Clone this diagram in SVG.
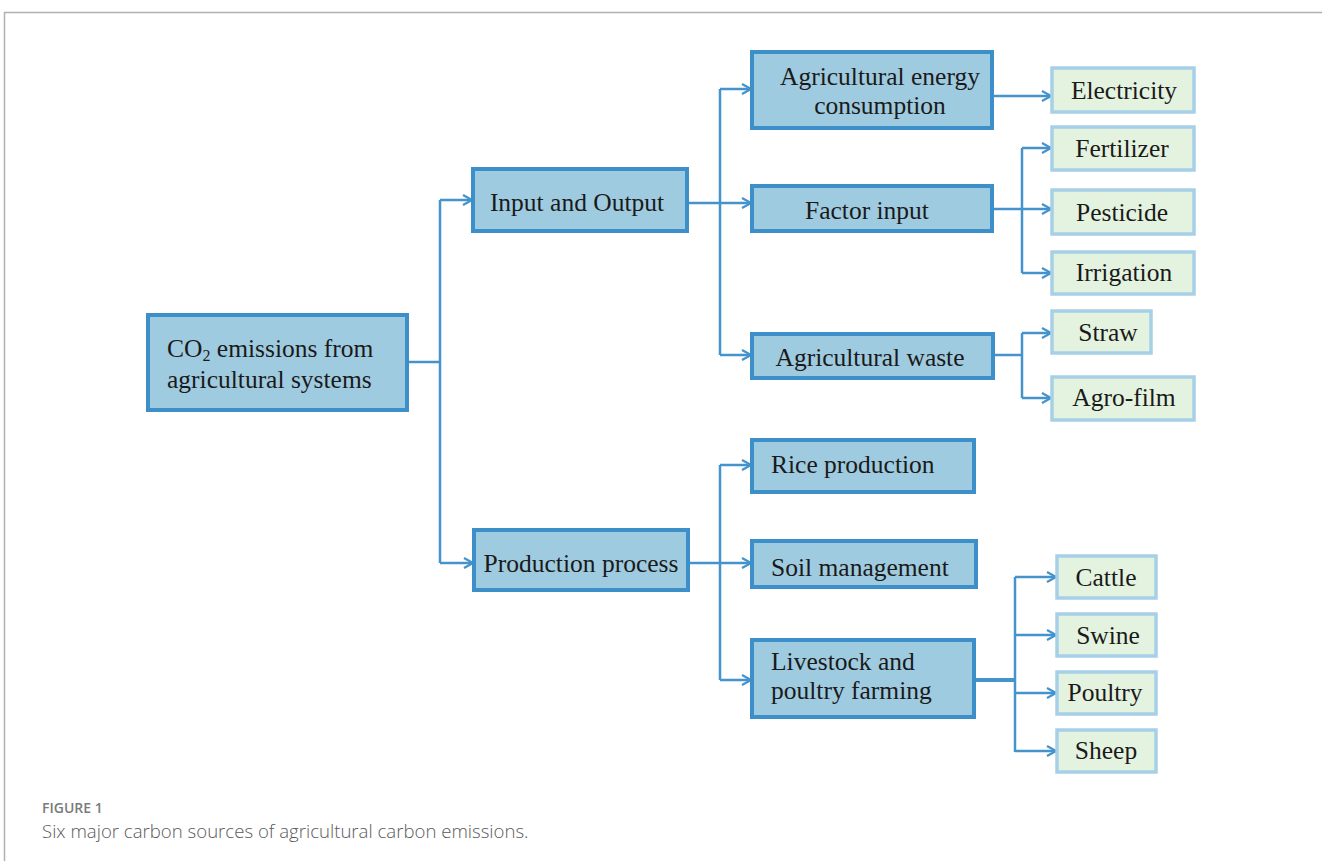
<svg xmlns="http://www.w3.org/2000/svg" width="1322" height="861" viewBox="0 0 1322 861">
<defs>
<style>
.main{fill:#9fcbe0;stroke:#3d8fc9;stroke-width:4}
.leaf{fill:#e4f3df;stroke:#a6d0e8;stroke-width:3.5}
.t{font-family:"Liberation Serif","Times New Roman",serif;font-size:25.5px;fill:#1a1a1a}
.c{text-anchor:middle}
.conn{fill:none;stroke:#4593cc;stroke-width:2.5}
.frame{fill:none;stroke:#b0b0b0;stroke-width:1.5}
.cap1{font-family:"Open Sans","Noto Sans",sans-serif;font-size:14px;fill:#7a7a7a;font-weight:600}
.cap2{font-family:"Open Sans","Noto Sans",sans-serif;font-size:18.6px;fill:#5a5a5a;font-weight:300}
</style>
<marker id="arr" viewBox="0 0 12 12" refX="11" refY="6" markerWidth="12" markerHeight="12" markerUnits="userSpaceOnUse" orient="auto">
<path d="M2,1 L11,6 L2,11" fill="none" stroke="#4593cc" stroke-width="2.2"/>
</marker>
</defs>
<rect width="1322" height="861" fill="#fff"/>
<path class="frame" d="M4.5,861 V12.5 H1322"/>

<g id="connectors">
<path class="conn" d="M407,362 H440"/>
<path class="conn" d="M440,200 V563"/>
<path class="conn" marker-end="url(#arr)" d="M440,200 H472"/>
<path class="conn" marker-end="url(#arr)" d="M440,563 H473"/>
<path class="conn" marker-end="url(#arr)" d="M687,203 H751"/>
<path class="conn" d="M720,89 V355"/>
<path class="conn" marker-end="url(#arr)" d="M720,89 H751"/>
<path class="conn" marker-end="url(#arr)" d="M720,355 H751"/>
<path class="conn" marker-end="url(#arr)" d="M688,563 H751"/>
<path class="conn" d="M720,465 V680"/>
<path class="conn" marker-end="url(#arr)" d="M720,465 H751"/>
<path class="conn" marker-end="url(#arr)" d="M720,680 H751"/>
<path class="conn" marker-end="url(#arr)" d="M992,96 H1051"/>
<path class="conn" d="M992,209 H1022"/>
<path class="conn" d="M1022,148 V273"/>
<path class="conn" marker-end="url(#arr)" d="M1022,148 H1051"/>
<path class="conn" marker-end="url(#arr)" d="M1022,209 H1051"/>
<path class="conn" marker-end="url(#arr)" d="M1022,273 H1051"/>
<path class="conn" d="M993,355 H1022"/>
<path class="conn" d="M1022,333 V398"/>
<path class="conn" marker-end="url(#arr)" d="M1022,333 H1051"/>
<path class="conn" marker-end="url(#arr)" d="M1022,398 H1051"/>
<path class="conn" style="stroke-width:4" d="M974,680 H1015"/>
<path class="conn" d="M1015,577 V752"/>
<path class="conn" marker-end="url(#arr)" d="M1015,577 H1056"/>
<path class="conn" marker-end="url(#arr)" d="M1015,635 H1056"/>
<path class="conn" marker-end="url(#arr)" d="M1015,693 H1056"/>
<path class="conn" marker-end="url(#arr)" d="M1015,751 H1056"/>
</g>

<g id="root">
<rect class="main" x="148" y="315" width="259" height="95"/>
<text class="t" x="167" y="357">CO<tspan font-size="16" dy="4">2</tspan><tspan dy="-4"> emissions from</tspan></text>
<text class="t" x="167" y="388">agricultural systems</text>
</g>
<g id="input-output">
<rect class="main" x="473" y="169" width="214" height="62"/>
<text class="t c" x="577" y="211">Input and Output</text>
</g>
<g id="production-process">
<rect class="main" x="474" y="530" width="214" height="60"/>
<text class="t c" x="581" y="572">Production process</text>
</g>
<g id="energy">
<rect class="main" x="752" y="52" width="240" height="76"/>
<text class="t c" x="880" y="85">Agricultural energy</text>
<text class="t c" x="880" y="114">consumption</text>
</g>
<g id="factor-input">
<rect class="main" x="752" y="186" width="240" height="45"/>
<text class="t c" x="867" y="219">Factor input</text>
</g>
<g id="waste">
<rect class="main" x="752" y="334" width="241" height="44"/>
<text class="t c" x="870" y="366">Agricultural waste</text>
</g>
<g id="rice">
<rect class="main" x="752" y="440" width="222" height="52"/>
<text class="t" x="771" y="473">Rice production</text>
</g>
<g id="soil">
<rect class="main" x="752" y="541" width="224" height="46"/>
<text class="t" x="771" y="576">Soil management</text>
</g>
<g id="livestock">
<rect class="main" x="752" y="640" width="222" height="77"/>
<text class="t" x="771" y="670">Livestock and</text>
<text class="t" x="771" y="699">poultry farming</text>
</g>
<g id="electricity">
<rect class="leaf" x="1052" y="68" width="142" height="44"/>
<text class="t c" x="1124" y="99">Electricity</text>
</g>
<g id="fertilizer">
<rect class="leaf" x="1052" y="127" width="142" height="43"/>
<text class="t c" x="1122" y="157">Fertilizer</text>
</g>
<g id="pesticide">
<rect class="leaf" x="1052" y="190" width="142" height="44"/>
<text class="t c" x="1122" y="221">Pesticide</text>
</g>
<g id="irrigation">
<rect class="leaf" x="1052" y="252" width="142" height="42"/>
<text class="t c" x="1124" y="281">Irrigation</text>
</g>
<g id="straw">
<rect class="leaf" x="1052" y="311" width="99" height="42"/>
<text class="t c" x="1108" y="341">Straw</text>
</g>
<g id="agro-film">
<rect class="leaf" x="1052" y="377" width="142" height="43"/>
<text class="t c" x="1124" y="406">Agro-film</text>
</g>
<g id="cattle">
<rect class="leaf" x="1057" y="556" width="99" height="42"/>
<text class="t c" x="1106" y="586">Cattle</text>
</g>
<g id="swine">
<rect class="leaf" x="1057" y="614" width="99" height="42"/>
<text class="t c" x="1108" y="644">Swine</text>
</g>
<g id="poultry">
<rect class="leaf" x="1057" y="672" width="99" height="42"/>
<text class="t c" x="1105" y="701">Poultry</text>
</g>
<g id="sheep">
<rect class="leaf" x="1057" y="730" width="99" height="42"/>
<text class="t c" x="1106" y="759">Sheep</text>
</g>

<text class="cap1" x="42" y="813">FIGURE 1</text>
<text class="cap2" x="42" y="838">Six major carbon sources of agricultural carbon emissions.</text>
</svg>
